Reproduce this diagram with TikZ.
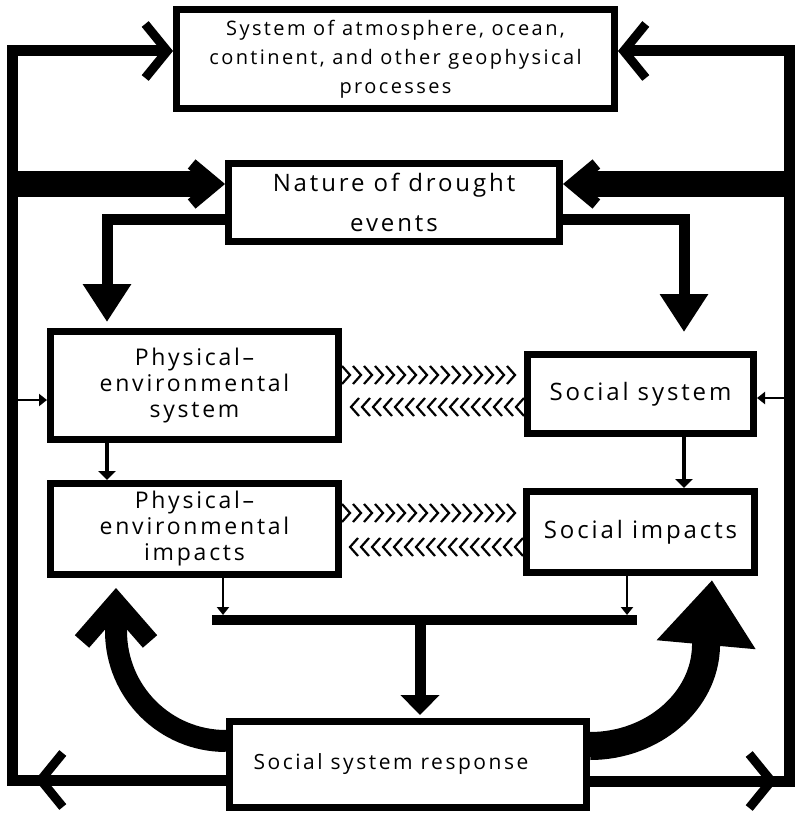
\documentclass[tikz,border=0pt]{standalone}
\usepackage{fontspec}
\setmainfont{Open Sans}[LetterSpace=12]
\usetikzlibrary{arrows.meta,decorations.markings}

\begin{document}
\begin{tikzpicture}[x=1pt,y=-1pt,
  box/.style={draw,line width=7pt,align=center,inner sep=0pt},
  loopline/.style={line width=11pt},
  barb/.style={-{Straight Barb[sharp,length=22pt,width=54pt,line width=9pt]}},
  fat/.style={line width=25pt,-{Straight Barb[sharp,length=24pt,width=40pt,line width=12pt]}},
  down/.style={line width=11pt,-{Triangle[length=38pt,width=46pt]}},
  mid/.style={line width=4pt,-{Triangle[length=9pt,width=17pt]}},
  small/.style={line width=2.5pt,-{Triangle[length=8pt,width=12pt]}},
  chevrons/.style={decoration={markings,
      mark=between positions 8pt and -2pt step 11pt with
        {\draw[line width=2.2pt] (-8pt,9pt) -- (0pt,0pt) -- (-8pt,-9pt);}},
    decorate}]
\useasboundingbox (0,0) rectangle (795,813);

% boxes
\node[box,minimum width=438pt,minimum height=99pt,font=\fontsize{20}{29}\selectfont] (geo) at (395.5,59)
  {System of atmosphere, ocean,\\continent, and other geophysical\\processes};
\node[box,minimum width=331pt,minimum height=78pt,font=\fontsize{24}{40}\selectfont] (nat) at (394,202.5)
  {Nature of drought\\events};
\node[box,minimum width=288pt,minimum height=108pt,font=\fontsize{23}{26}\selectfont] (pes) at (194.5,385.5)
  {Physical–\\environmental\\system};
\node[box,minimum width=288pt,minimum height=91pt,font=\fontsize{23}{26}\selectfont] (pei) at (194.5,529)
  {Physical–\\environmental\\impacts};
\node[box,minimum width=226pt,minimum height=79pt,font=\fontsize{24}{29}\selectfont] (soc) at (640.5,394)
  {Social system};
\node[box,minimum width=228pt,minimum height=81pt,font=\fontsize{24}{29}\selectfont] (soi) at (640.5,532)
  {Social impacts};
\node[box,minimum width=357pt,minimum height=86pt,font=\fontsize{21}{26}\selectfont] (resp) at (408,764.5)
  {Social system response\hspace*{34pt}};

% outer loop
\coordinate (tl) at (12.5,51);
\coordinate (bl) at (12.5,780);
\coordinate (tr) at (789,51);
\coordinate (br) at (789,781);
\draw[loopline,barb] (resp.west |- bl) -- (bl) -- (tl) -- (geo.west |- tl);
\draw[loopline,barb] (resp.west |- bl) -- ([xshift=22.5pt]bl);
\draw[loopline,barb] (resp.east |- br) -- (br) -- (tr) -- (geo.east |- tr);
\draw[loopline,barb] (resp.east |- br) -- ([xshift=-12pt]br);

% into the drought box
\coordinate (fl) at (12.5,184);
\coordinate (fr) at (789,184);
\draw[fat] (fl) -- (nat.west |- fl);
\draw[fat] (fr) -- (nat.east |- fr);

% out of the drought box
\coordinate (dl) at (107,219);
\coordinate (dr) at (684,219);
\draw[down,shorten >=6pt] (nat.west |- dl) -- (dl) -- (dl |- pes.north);
\draw[down,shorten >=19pt] (nat.east |- dr) -- (dr) -- (dr |- soc.north);

\coordinate (sl) at (12.5,400);
\coordinate (sr) at (789,398);
\draw[small] (sl) -- (pes.west |- sl);
\draw[small] (sr) -- (soc.east |- sr);

\draw[mid] (pes.south -| dl) -- (pei.north -| dl);
\draw[mid] (soc.south -| dr) -- (soi.north -| dr);

% interactions
\path[chevrons] (pes.east |- 0,375) -- (soc.west |- 0,375);
\path[chevrons] (soc.west |- 0,407) -- (pes.east |- 0,407);
\path[chevrons] (pei.east |- 0,513) -- (soi.west |- 0,513);
\path[chevrons] (soi.west |- 0,547) -- (pei.east |- 0,547);

% impacts to response
\coordinate (j1) at (212,620);
\coordinate (j2) at (637,620);
\coordinate (ja) at (223,615);
\coordinate (jb) at (627,615);
\coordinate (jc) at (420,625);
\draw[line width=10pt] (j1) -- (j2);
\draw[small] (pei.south -| ja) -- (ja);
\draw[small] (soi.south -| jb) -- (jb);
\draw[line width=11pt,-{Triangle[length=20pt,width=38pt]},shorten >=3pt] (jc) -- (jc |- resp.north);

% response feedback
\coordinate (cl) at (116,588);
\coordinate (cr) at (712,580);
\draw[line width=22pt,-{Straight Barb[sharp,length=39pt,width=68pt,line width=19pt]}]
  (resp.west |- 0,741) .. controls (165,741) and (116,692) .. (116,631) -- (cl);
\draw[line width=28pt,-{Triangle[length=65pt,width=95pt]}]
  (resp.east |- 0,746) .. controls (653,746) and (705,701) .. (706,646) -- (cr);
\end{tikzpicture}
\end{document}
